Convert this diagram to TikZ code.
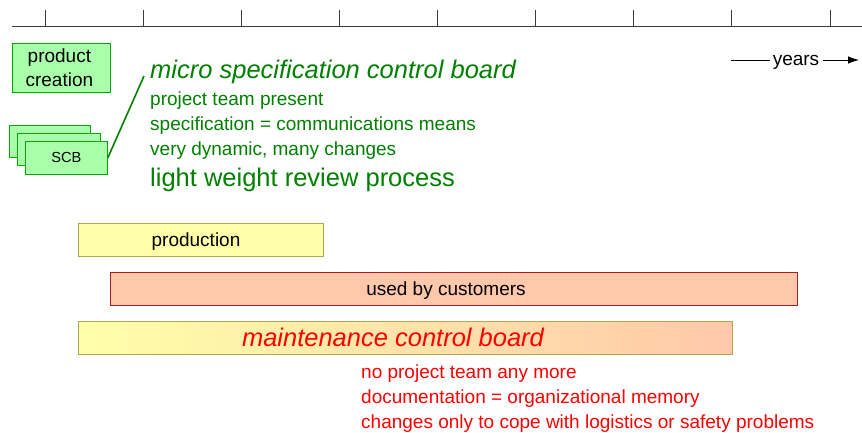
\documentclass[tikz,border=0pt]{standalone}
\usepackage{fontspec}
\setmainfont{Liberation Sans}
\usetikzlibrary{arrows.meta}
\definecolor{tgreen}{RGB}{0,128,0}
\definecolor{boxgreen}{RGB}{170,255,170}
\definecolor{boxgreenb}{RGB}{0,170,0}
\definecolor{pyellow}{RGB}{255,255,170}
\definecolor{polive}{RGB}{170,170,80}
\definecolor{psalmon}{RGB}{255,200,170}
\definecolor{pdred}{RGB}{170,30,30}
\definecolor{axisgray}{RGB}{60,60,60}
\tikzset{
  gbox/.style={draw=boxgreenb, fill=boxgreen, line width=0.8pt, anchor=north west, inner sep=0pt, align=center},
  bar/.style={line width=1pt, anchor=north west, inner sep=0pt, minimum height=33pt},
  normal/.style={font=\fontsize{19}{24}\selectfont, inner sep=0pt},
  big/.style={font=\fontsize{25.5}{30}\selectfont, inner sep=0pt},
}
\begin{document}
\begin{tikzpicture}[x=1pt,y=-1pt]
\useasboundingbox (0,0) rectangle (862,433);
% time axis
\draw[axisgray, line width=0.8pt] (12,26) -- (862,26);
\foreach \t in {45,143,241,339,437,535,633,731,830}
  \draw[axisgray, line width=0.8pt] (\t,10) -- (\t,26);
% years
\node[normal, anchor=base] (years) at (796,66) {years};
\coordinate (ys) at (731,60);
\coordinate (ye) at (859,60);
\draw[line width=0.8pt] (ys) -- ([xshift=-3pt]years.west |- ys);
\draw[line width=0.8pt, -{Latex[length=11pt,width=7.5pt]}] ([xshift=4pt]years.east |- ys) -- (ye);
% product creation
\node[gbox, minimum width=98pt, minimum height=49pt] (pc) at (12,43) {};
\node[align=center, inner sep=0pt, font=\fontsize{19}{24}\selectfont] (pct) at ([xshift=-2pt]pc.center) {product\\creation};
% SCB stack
\node[gbox, minimum width=81pt, minimum height=32pt] (scb1) at (9,125) {};
\node[gbox, minimum width=83pt, minimum height=32pt] (scb2) at (17,133) {};
\node[gbox, minimum width=82pt, minimum height=33pt, font=\fontsize{14.6}{17}\selectfont] (scb3) at (25,141) {SCB};
\coordinate (lend) at (144,76);
\draw[tgreen, line width=1.6pt] (scb3.east) -- (lend);
% micro specification text
\node[big, anchor=base west, text=tgreen, font=\fontsize{25.5}{30}\selectfont\itshape] (msct) at (150,79) {micro specification control board};
\node[normal, anchor=base west, text=tgreen] (m1) at (150,106) {project team present};
\node[normal, anchor=base west, text=tgreen] (m2) at (150,131) {specification = communications means};
\node[normal, anchor=base west, text=tgreen] (m3) at (150,156) {very dynamic, many changes};
\node[big, anchor=base west, text=tgreen] (m4) at (150,186) {light weight review process};
% bars
\node[bar, draw=polive, fill=pyellow, minimum width=245pt] (prod) at (78,223) {};
\node[normal, anchor=base] (prodt) at (196,246) {production};
\node[bar, draw=pdred, fill=psalmon, minimum width=687pt] (used) at (110,272) {};
\node[normal, anchor=base] (usedt) at (446,295) {used by customers};
\node[bar, draw=polive, left color=pyellow, right color=psalmon, minimum width=654pt] (maint) at (78,321) {};
\node[big, anchor=base, text=red, font=\fontsize{25.5}{30}\selectfont\itshape] (maintt) at (393,346) {maintenance control board};
% red notes
\node[normal, anchor=base west, text=red] (r1) at (361,378) {no project team any more};
\node[normal, anchor=base west, text=red] (r2) at (361,403) {documentation = organizational memory};
\node[normal, anchor=base west, text=red] (r3) at (361,428) {changes only to cope with logistics or safety problems};
\end{tikzpicture}
\end{document}
